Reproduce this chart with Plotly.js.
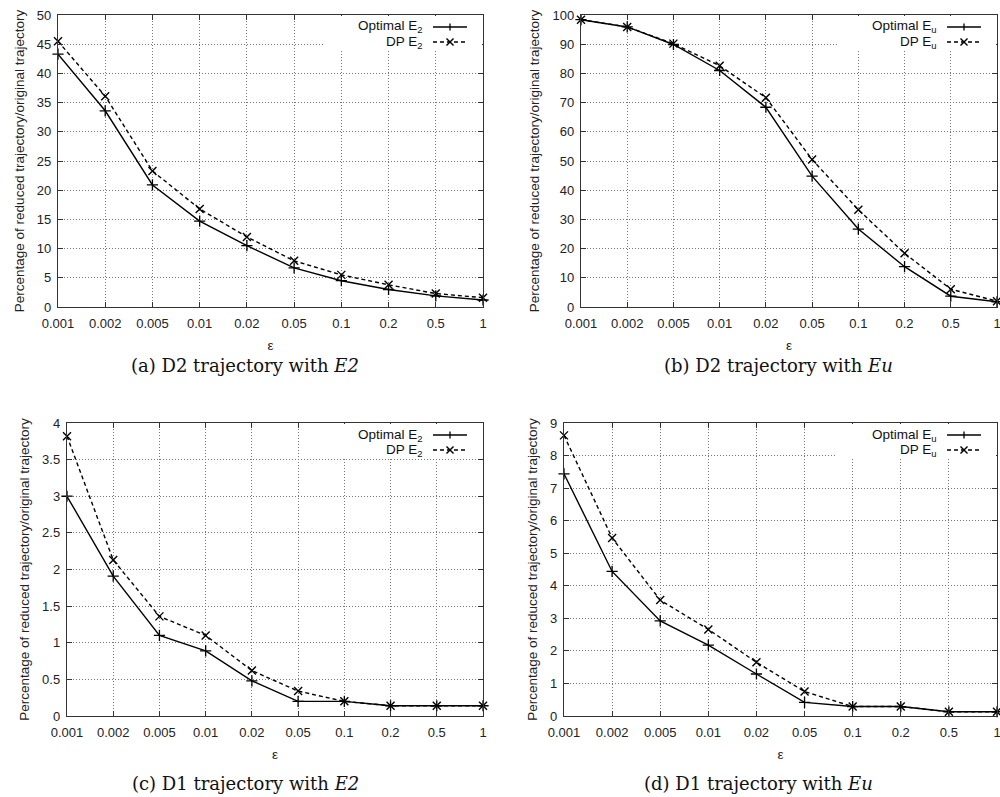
<!DOCTYPE html>
<html>
<head>
<meta charset="utf-8">
<script src="https://cdn.plot.ly/plotly-3.0.1.min.js"></script>
<style>html,body{margin:0;padding:0;background:#fff;}#chart{width:1000px;height:797px;}</style>
</head>
<body>
<div id="chart"></div>
<script>
// ---- data ----
const epsilon = ['0.001','0.002','0.005','0.01','0.02','0.05','0.1','0.2','0.5','1'];

const d2E2Optimal = [43.3, 33.6, 20.9, 14.7, 10.5, 6.7, 4.5, 3.0, 1.9, 1.2];
const d2E2DP      = [45.5, 36.1, 23.3, 16.8, 12.0, 7.9, 5.5, 3.8, 2.3, 1.6];

const d2EuOptimal = [98.4, 95.9, 89.9, 81.0, 68.4, 44.8, 26.7, 13.8, 3.7, 1.8];
const d2EuDP      = [98.4, 95.9, 90.2, 82.6, 71.7, 50.5, 33.3, 18.4, 6.1, 2.0];

const d1E2Optimal = [3.0, 1.91, 1.10, 0.89, 0.48, 0.20, 0.20, 0.14, 0.14, 0.14];
const d1E2DP      = [3.82, 2.13, 1.36, 1.10, 0.62, 0.34, 0.20, 0.14, 0.14, 0.14];

const d1EuOptimal = [7.44, 4.44, 2.92, 2.18, 1.29, 0.42, 0.29, 0.29, 0.13, 0.13];
const d1EuDP      = [8.62, 5.47, 3.56, 2.66, 1.65, 0.75, 0.29, 0.29, 0.13, 0.13];

const optimalNames = ['Optimal E<sub>2</sub>', 'Optimal E<sub>u</sub>', 'Optimal E<sub>2</sub>', 'Optimal E<sub>u</sub>'];
const dpNames      = ['DP E<sub>2</sub>', 'DP E<sub>u</sub>', 'DP E<sub>2</sub>', 'DP E<sub>u</sub>'];
const captions = ['(a) D2 trajectory with <i>E2</i>', '(b) D2 trajectory with <i>Eu</i>',
                  '(c) D1 trajectory with <i>E2</i>', '(d) D1 trajectory with <i>Eu</i>'];
const yRanges = [[0, 50], [0, 100], [0, 4], [0, 9]];
const yDticks = [5, 10, 0.5, 1];
const yTitle = 'Percentage of reduced trajectory/original trajectory';
const xTitle = 'ε';

const optimalSeries = [d2E2Optimal, d2EuOptimal, d1E2Optimal, d1EuOptimal];
const dpSeries      = [d2E2DP, d2EuDP, d1E2DP, d1EuDP];

// ---- layout geometry (pixels) ----
const W = 1000, H = 797;
const panels = [
  {l: 58,  r: 483, t: 15,  b: 307, capX: 245, capY: 365},
  {l: 581, r: 997, t: 15,  b: 307, capX: 778, capY: 365},
  {l: 67,  r: 483, t: 423, b: 716, capX: 245, capY: 783},
  {l: 564, r: 997, t: 423, b: 716, capX: 758, capY: 783}
];

const tickFont = {family: 'Liberation Sans, Arial, Helvetica, sans-serif', size: 13, color: '#222'};
const titleFont = {family: 'Liberation Sans, Arial, Helvetica, sans-serif', size: 13.5, color: '#222'};
const keyFont = {family: 'Liberation Sans, Arial, Helvetica, sans-serif', size: 13.5, color: '#111'};
const traces = [];
const layout = {
  width: W, height: H,
  margin: {l: 0, r: 0, t: 0, b: 0},
  paper_bgcolor: '#fff', plot_bgcolor: '#fff',
  showlegend: false,
  shapes: [], annotations: []
};

panels.forEach((p, i) => {
  const sfx = i === 0 ? '' : String(i + 1);
  const xa = 'x' + sfx, ya = 'y' + sfx;
  const w = p.r - p.l, h = p.b - p.t;
  const common = {
    showline: true, mirror: 'ticks', linecolor: '#333', linewidth: 1.2,
    ticks: 'inside', ticklen: 5, tickcolor: '#333', tickwidth: 1,
    showgrid: true, gridcolor: '#777', griddash: '1px,2px', gridwidth: 1,
    zeroline: false, tickfont: tickFont, automargin: false, fixedrange: true
  };
  layout['xaxis' + sfx] = Object.assign({}, common, {
    domain: [p.l / W, p.r / W], anchor: ya, type: 'category',
    categoryorder: 'array', categoryarray: epsilon, range: [0, epsilon.length - 1],
    ticklabelstandoff: 4,
    title: {text: xTitle, font: titleFont, standoff: 10}
  });
  layout['yaxis' + sfx] = Object.assign({}, common, {
    domain: [1 - p.b / H, 1 - p.t / H], anchor: xa,
    range: yRanges[i], dtick: yDticks[i], tick0: 0,
    ticklabelstandoff: 3,
    title: {text: yTitle, font: titleFont, standoff: 9}
  });

  traces.push({
    type: 'scatter', mode: 'lines+markers', x: epsilon, y: optimalSeries[i],
    xaxis: xa, yaxis: ya, name: optimalNames[i], cliponaxis: false,
    line: {color: '#000', width: 1.4},
    marker: {symbol: 'cross-thin-open', size: 8, color: '#000', line: {color: '#000', width: 1.3}}
  });
  traces.push({
    type: 'scatter', mode: 'lines+markers', x: epsilon, y: dpSeries[i],
    xaxis: xa, yaxis: ya, name: dpNames[i], cliponaxis: false,
    line: {color: '#000', width: 1.4, dash: '4px,3px'},
    marker: {symbol: 'x-thin-open', size: 8, color: '#000', line: {color: '#000', width: 1.4}}
  });

  // key (legend) drawn like gnuplot: text then sample line
  const xr = xa + ' domain', yr = ya + ' domain';
  const fx = px => 1 - px / w;      // px from right edge
  const fy = px => 1 - px / h;      // px from top edge
  layout.shapes.push({type: 'rect', xref: xr, yref: yr, x0: fx(160), x1: fx(1), y0: fy(35), y1: fy(1),
    fillcolor: '#fff', line: {width: 0}, layer: 'above'});
  const rows = [12, 27];
  rows.forEach((ry, k) => {
    layout.annotations.push({
      xref: xr, yref: yr, x: fx(58), y: fy(ry), xanchor: 'right', yanchor: 'middle',
      text: k === 0 ? optimalNames[i] : dpNames[i], showarrow: false, font: keyFont
    });
    layout.shapes.push({type: 'line', xref: xr, yref: yr, x0: fx(50), x1: fx(16), y0: fy(ry), y1: fy(ry),
      line: {color: '#000', width: 1.4, dash: k === 0 ? 'solid' : '4px,3px'}});
    const cx = 33, m = 3.5;
    if (k === 0) {
      layout.shapes.push({type: 'line', xref: xr, yref: yr, x0: fx(cx), x1: fx(cx), y0: fy(ry - m), y1: fy(ry + m),
        line: {color: '#000', width: 1.3}});
    } else {
      layout.shapes.push({type: 'line', xref: xr, yref: yr, x0: fx(cx + m), x1: fx(cx - m), y0: fy(ry - m), y1: fy(ry + m),
        line: {color: '#000', width: 1.4}});
      layout.shapes.push({type: 'line', xref: xr, yref: yr, x0: fx(cx + m), x1: fx(cx - m), y0: fy(ry + m), y1: fy(ry - m),
        line: {color: '#000', width: 1.4}});
    }
  });

  layout.annotations.push({
    xref: 'paper', yref: 'paper', x: p.capX / W, y: 1 - p.capY / H, xanchor: 'center', yanchor: 'middle',
    text: captions[i], showarrow: false,
    font: {family: 'DejaVu Serif, Liberation Serif, serif', size: 18, color: '#111'}
  });
});

Plotly.newPlot('chart', traces, layout, {staticPlot: true, displayModeBar: false});
</script>
</body>
</html>
